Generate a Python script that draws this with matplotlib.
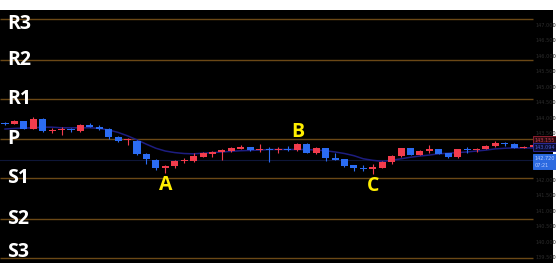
import numpy as np
import matplotlib.pyplot as plt

# candle data (red = up, blue = down)
opens  = [143.84, 143.83, 143.92, 143.67, 143.98, 143.61, 143.62, 143.64, 143.61, 143.80,
          143.74, 143.66, 143.41, 143.30, 143.27, 142.86, 142.67, 142.39, 142.47, 142.63,
          142.64, 142.77, 142.86, 142.91, 142.96, 143.03, 143.08, 142.97, 143.02, 142.98,
          143.02, 142.98, 143.19, 142.89, 143.04, 142.73, 142.68, 142.49, 142.41, 142.38,
          142.41, 142.60, 142.79, 143.05, 142.83, 142.94, 143.00, 142.88, 142.75, 143.01,
          142.97, 143.03, 143.12, 143.20, 143.17, 143.06, 143.08]
highs  = [143.89, 143.95, 143.93, 144.04, 144.01, 143.69, 143.72, 143.69, 143.82, 143.84,
          143.80, 143.68, 143.44, 143.38, 143.31, 142.88, 142.69, 142.51, 142.66, 142.74,
          142.90, 142.91, 142.96, 143.01, 143.09, 143.13, 143.09, 143.18, 143.09, 143.07,
          143.11, 143.22, 143.22, 143.07, 143.06, 142.90, 142.70, 142.51, 142.49, 142.52,
          142.64, 142.82, 143.05, 143.06, 142.97, 143.13, 143.03, 142.90, 143.03, 143.07,
          143.06, 143.16, 143.26, 143.24, 143.20, 143.11, 143.15]
lows   = [143.78, 143.82, 143.67, 143.65, 143.57, 143.52, 143.48, 143.57, 143.58, 143.72,
          143.63, 143.33, 143.24, 143.15, 142.82, 142.53, 142.34, 142.23, 142.39, 142.55,
          142.61, 142.75, 142.77, 142.66, 142.93, 143.01, 142.96, 142.93, 142.61, 142.90,
          142.96, 142.95, 142.88, 142.84, 142.64, 142.65, 142.45, 142.31, 142.32, 142.21,
          142.39, 142.53, 142.77, 142.81, 142.81, 142.90, 142.84, 142.74, 142.73, 142.90,
          142.91, 143.01, 143.09, 143.11, 143.04, 143.04, 143.06]
closes = [143.81, 143.92, 143.67, 143.98, 143.59, 143.63, 143.64, 143.62, 143.79, 143.74,
          143.67, 143.41, 143.27, 143.32, 142.86, 142.68, 142.40, 142.47, 142.64, 142.66,
          142.79, 142.88, 142.93, 142.98, 143.05, 143.08, 142.98, 143.03, 142.98, 143.01,
          142.98, 143.19, 142.90, 143.04, 142.72, 142.67, 142.48, 142.39, 142.38, 142.44,
          142.61, 142.80, 143.04, 142.83, 142.95, 143.01, 142.87, 142.76, 143.01, 142.97,
          143.03, 143.12, 143.20, 143.17, 143.06, 143.09, 143.13]
ma_line = [143.66, 143.68, 143.69, 143.70, 143.72, 143.72, 143.70, 143.70, 143.70, 143.70,
           143.68, 143.63, 143.55, 143.44, 143.31, 143.17, 143.04, 142.95, 142.90, 142.87,
           142.86, 142.88, 142.90, 142.92, 142.94, 142.96, 142.97, 142.98, 143.00, 143.00,
           143.00, 143.00, 143.00, 142.98, 142.96, 142.92, 142.87, 142.80, 142.70, 142.65,
           142.62, 142.65, 142.70, 142.75, 142.79, 142.82, 142.86, 142.88, 142.90, 142.92,
           142.95, 142.98, 143.02, 143.04, 143.05, 143.05, 143.05]

pivot_names  = ["R3", "R2", "R1", "P", "S1", "S2", "S3"]
pivot_levels = [147.21, 145.89, 144.63, 143.34, 142.08, 140.76, 139.50]

price_ticks = [147.0, 146.5, 146.0, 145.5, 145.0, 144.5, 144.0, 143.5,
               143.0, 142.5, 142.0, 141.5, 141.0, 140.5, 140.0, 139.5]

marks = [("A", 17, "low"), ("B", 31, "high"), ("C", 39, "low")]

last_price = 142.66
tag_texts  = ["143.155", "143.094", "142.720\n07:21"]
tag_levels = [143.29, 143.08, 142.61]

RED  = '#f23c4d'
BLUE = '#2b6cf2'

fig = plt.figure(figsize=(5.56, 2.74), dpi=100, facecolor='white')
ax = fig.add_axes([0, 11 / 274, 553 / 556, 253 / 274])
ax.set_facecolor('black')
for s in ax.spines.values():
    s.set_visible(False)
ax.set_xticks([])
ax.set_yticks([])
ax.set_xlim(-0.53, 58.11)
ax.set_ylim(139.338, 147.5)

x = np.arange(len(opens))
o = np.array(opens); h = np.array(highs); l = np.array(lows); c = np.array(closes)
cols = [RED if cc >= oo else BLUE for oo, cc in zip(o, c)]

# pivot lines
ax.hlines(pivot_levels, -0.53, 56.0, color='#6b4816', lw=1.0, zorder=1)
ax.axhline(last_price, color='#0e1638', lw=0.8, zorder=1)

# moving average
ax.plot(x, ma_line, color='#1d1d80', lw=1.1, zorder=2)

# candles
ax.vlines(x, l, h, colors=cols, lw=0.8, zorder=3)
body_h = np.maximum(np.abs(c - o), 0.03)
ax.bar(x, body_h, bottom=np.minimum(o, c), width=0.75, color=cols, zorder=4)

# pivot labels (R3 / S3 pushed inside the frame)
offs = {"R3": -5, "S3": 6}
for name, lev in zip(pivot_names, pivot_levels):
    ax.annotate(name, xy=(0, lev), xycoords=('axes fraction', 'data'),
                xytext=(7, offs.get(name, 0)), textcoords='offset pixels',
                ha='left', va='center', fontsize=14, color='white',
                fontweight='bold', family='Open Sans', zorder=6)

# A / B / C marks
for lab, i, side in marks:
    if side == "low":
        y, dy = lows[i], -12
    else:
        y, dy = highs[i], 11
    ax.annotate(lab, xy=(i, y), xytext=(0, dy), textcoords='offset pixels',
                ha='center', va='center', fontsize=14, color='#ffee00',
                fontweight='bold', family='Open Sans', zorder=6)

# dim price scale, hidden where a tag sits on top
ytr = ax.get_yaxis_transform()
for t in price_ticks:
    if min(abs(t - tl) for tl in tag_levels) < 0.15:
        continue
    ax.text(0.969, t, f"{t:.3f}", transform=ytr, ha='left', va='center',
            fontsize=3.6, color='#2c2c2c', zorder=5)

# price tags
tag_style = [
    dict(fc='#2a0a10', ec='#8c1f2e', tc='#c8404f'),
    dict(fc='#0c0c30', ec='#2a2a9a', tc='#4a5ad0'),
    dict(fc='#2c6ae0', ec='#2c6ae0', tc='#b8ccff'),
]
for txt, lev, st in zip(tag_texts, tag_levels, tag_style):
    ax.text(0.9665, lev, txt, transform=ytr, ha='left', va='center',
            fontsize=3.6, color=st['tc'], linespacing=1.5,
            bbox=dict(boxstyle='square,pad=0.35', fc=st['fc'], ec=st['ec'], lw=0.7),
            zorder=7)

fig.savefig("out.png", dpi=100, facecolor='white')
